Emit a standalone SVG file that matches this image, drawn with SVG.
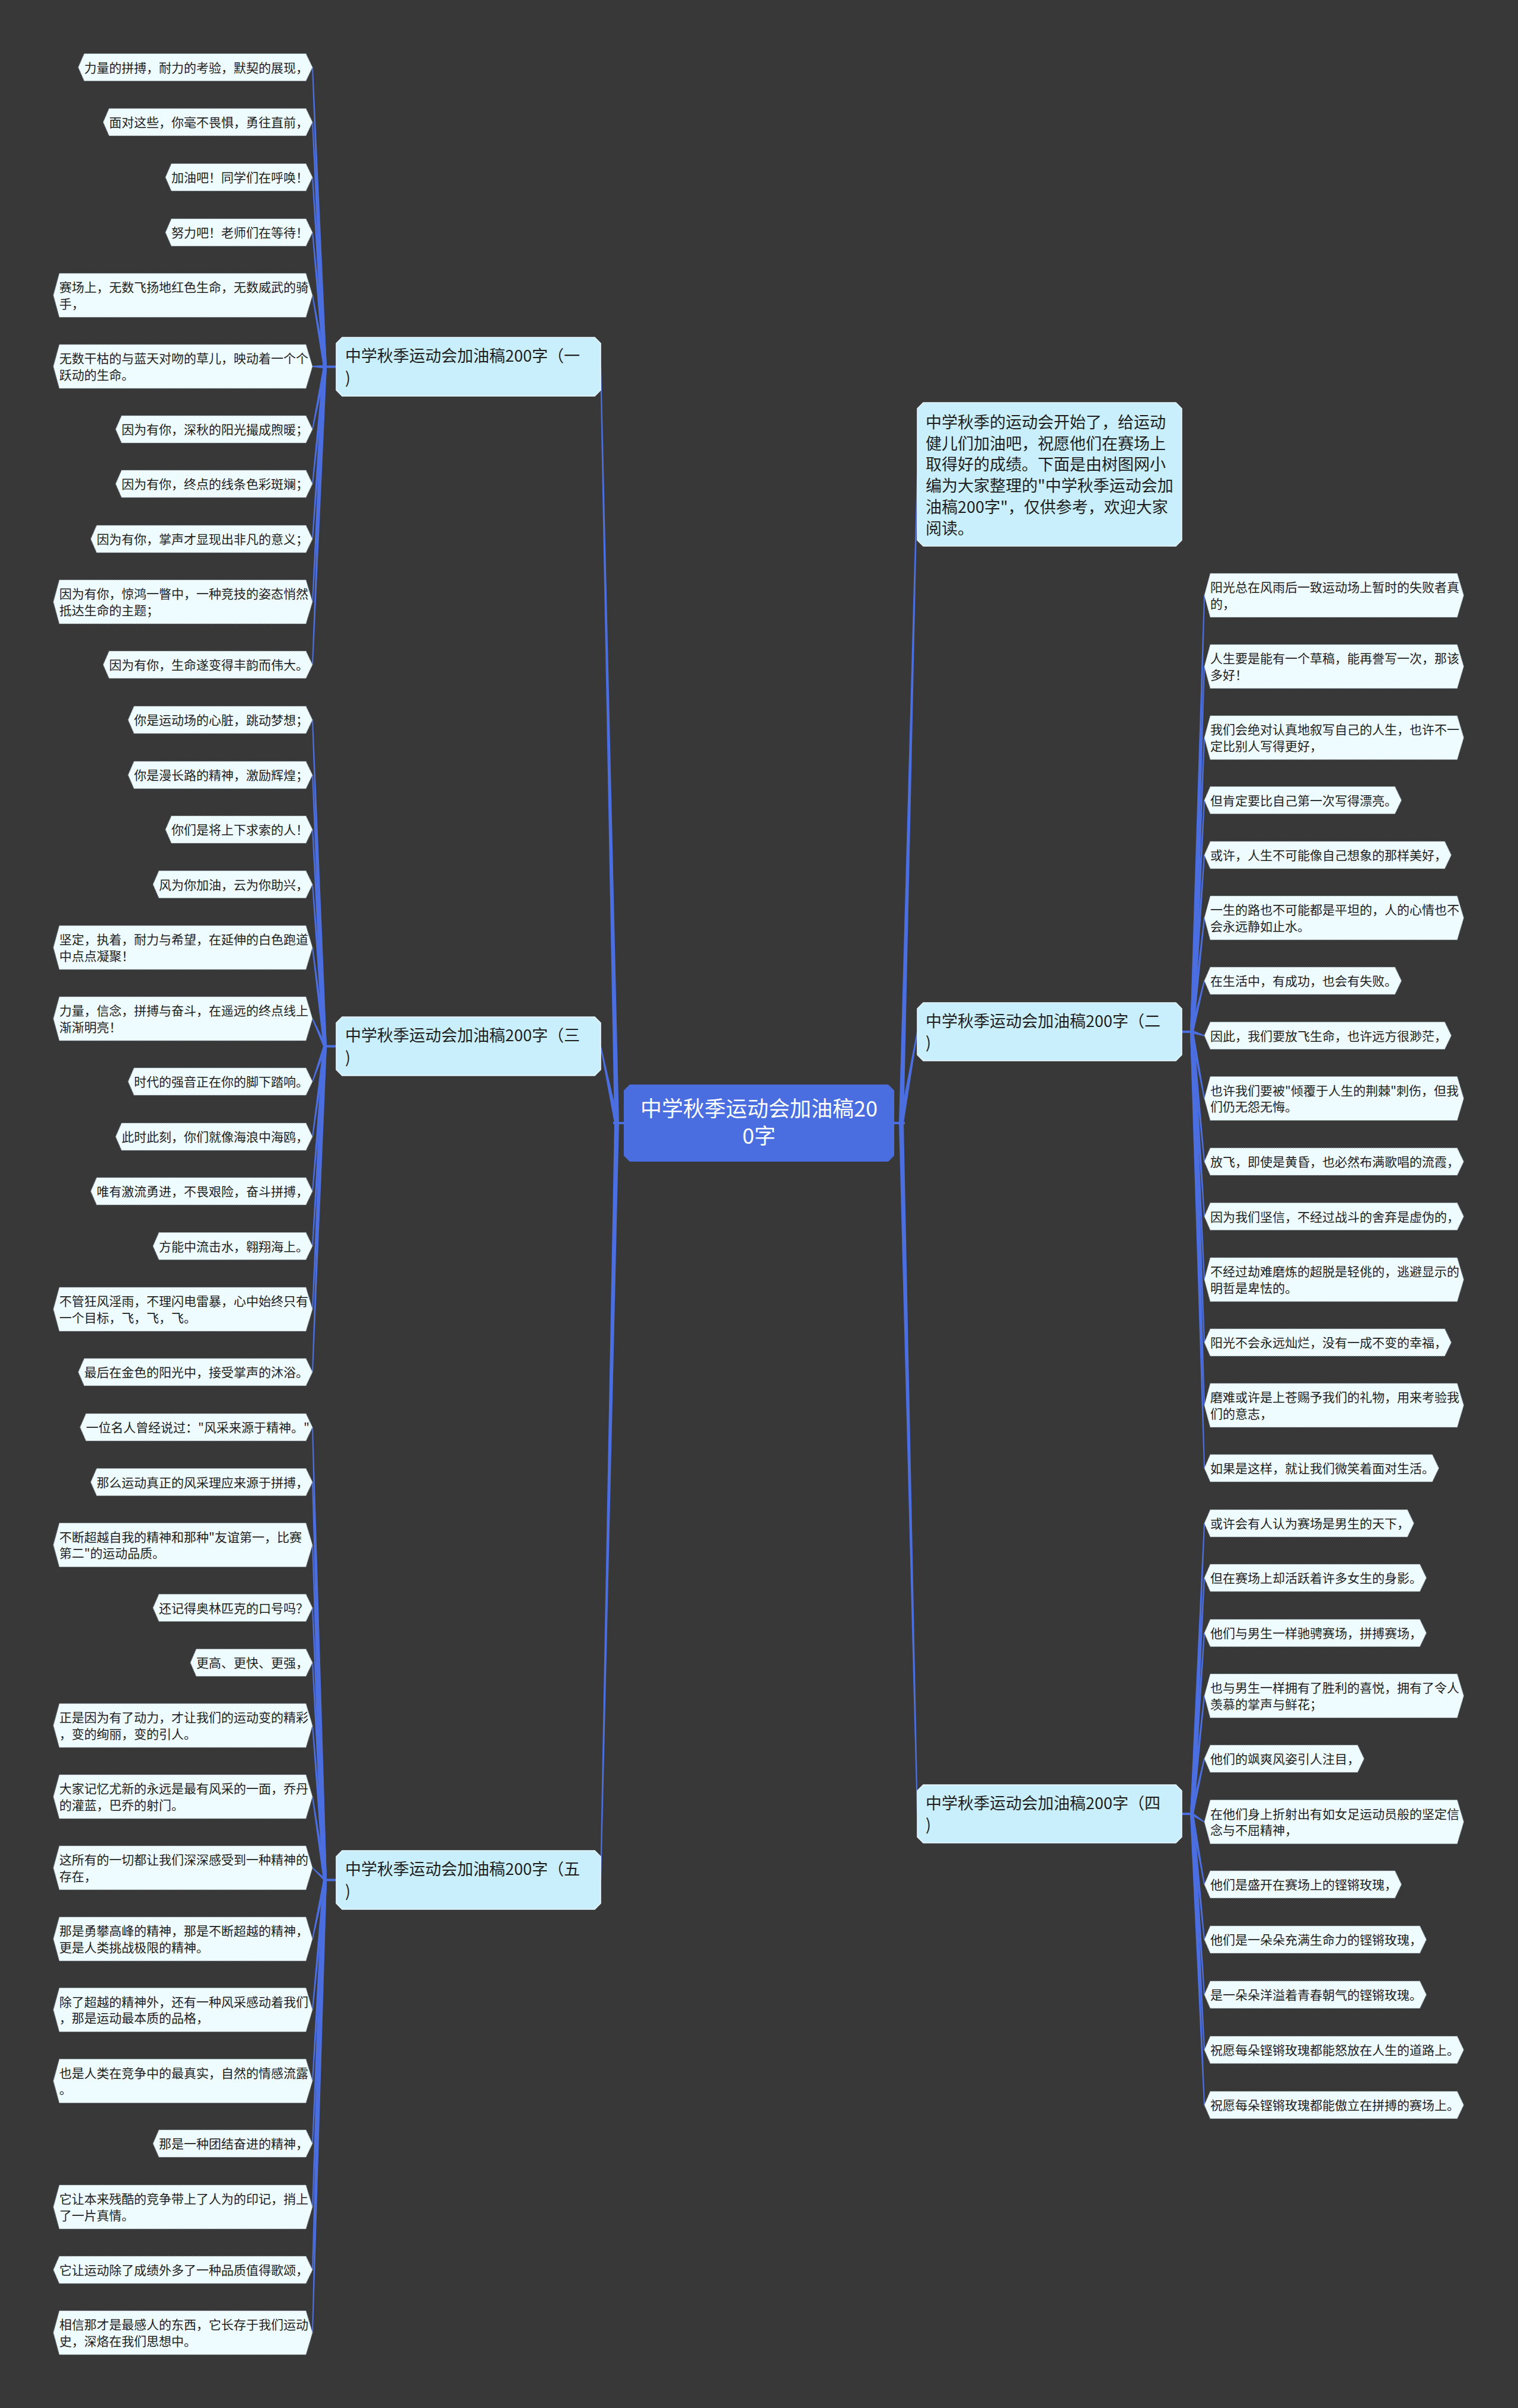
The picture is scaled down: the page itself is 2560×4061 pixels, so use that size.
<svg xmlns="http://www.w3.org/2000/svg" width="2560" height="4061" viewBox="0 0 2560 4061">
<style>
text{font-family:"Noto Sans CJK SC","Noto Sans",sans-serif;fill:#1e1e1e}
.lf{fill:#eefbff;stroke:#8f9ca2;stroke-width:1.2;stroke-dasharray:2 2}
.lt{font-size:21px}
.br{fill:#c9effc;stroke:#e8f8fe;stroke-width:1.5}
.bt{font-size:27px}
.ct{font-size:36px;fill:#ffffff;text-anchor:middle}
.cn{fill:#4b6ee0}
</style>
<rect x="0" y="0" width="2560" height="4061" fill="#393839"/>
<g id="connectors" class="cn">
<polygon points="1012,618.5 1036,1894 1044,1894 1014,618.5"/>
<polygon points="1012,1764.5 1036,1894 1044,1894 1014,1764.5"/>
<polygon points="1012,3170.5 1036,1894 1044,1894 1014,3170.5"/>
<polygon points="1546,800 1516,1894 1524,1894 1548,800"/>
<polygon points="1546,1740 1516,1894 1524,1894 1548,1740"/>
<polygon points="1546,3059 1516,1894 1524,1894 1548,3059"/>
<path d="M1034,1892 H1053 V1896 H1034 Z"/>
<path d="M1507,1892 H1526 V1896 H1507 Z"/>
<path d="M546,616.5 H568 V620.5 H546 Z"/>
<path d="M546,1762.5 H568 V1766.5 H546 Z"/>
<path d="M546,3168.5 H568 V3172.5 H546 Z"/>
<path d="M1992,1738 H2012 V1742 H1992 Z"/>
<path d="M1992,3057 H2012 V3061 H1992 Z"/>
<polygon points="526,113.5 545,618.5 551,618.5 528,113.5"/>
<polygon points="526,206 545,618.5 551,618.5 528,206"/>
<polygon points="526,299 545,618.5 551,618.5 528,299"/>
<polygon points="526,392 545,618.5 551,618.5 528,392"/>
<polygon points="526,498 545,618.5 551,618.5 528,498"/>
<polygon points="527,617 548,615.5 548,621.5 527,619"/>
<polygon points="526,724 545,618.5 551,618.5 528,724"/>
<polygon points="526,816 545,618.5 551,618.5 528,816"/>
<polygon points="526,909 545,618.5 551,618.5 528,909"/>
<polygon points="526,1015 545,618.5 551,618.5 528,1015"/>
<polygon points="526,1121 545,618.5 551,618.5 528,1121"/>
<polygon points="526,1214 545,1764.5 551,1764.5 528,1214"/>
<polygon points="526,1307 545,1764.5 551,1764.5 528,1307"/>
<polygon points="526,1399 545,1764.5 551,1764.5 528,1399"/>
<polygon points="526,1491.5 545,1764.5 551,1764.5 528,1491.5"/>
<polygon points="526,1598 545,1764.5 551,1764.5 528,1598"/>
<polygon points="526,1718 545,1764.5 551,1764.5 528,1718"/>
<polygon points="526,1824 545,1764.5 551,1764.5 528,1824"/>
<polygon points="526,1917 545,1764.5 551,1764.5 528,1917"/>
<polygon points="526,2009 545,1764.5 551,1764.5 528,2009"/>
<polygon points="526,2101.5 545,1764.5 551,1764.5 528,2101.5"/>
<polygon points="526,2208 545,1764.5 551,1764.5 528,2208"/>
<polygon points="526,2314 545,1764.5 551,1764.5 528,2314"/>
<polygon points="526,2407 545,3170.5 551,3170.5 528,2407"/>
<polygon points="526,2499.5 545,3170.5 551,3170.5 528,2499.5"/>
<polygon points="526,2605.5 545,3170.5 551,3170.5 528,2605.5"/>
<polygon points="526,2711.5 545,3170.5 551,3170.5 528,2711.5"/>
<polygon points="526,2804 545,3170.5 551,3170.5 528,2804"/>
<polygon points="526,2910 545,3170.5 551,3170.5 528,2910"/>
<polygon points="526,3030 545,3170.5 551,3170.5 528,3030"/>
<polygon points="527,3149 548,3167.5 548,3173.5 527,3151"/>
<polygon points="526,3270 545,3170.5 551,3170.5 528,3270"/>
<polygon points="526,3389.5 545,3170.5 551,3170.5 528,3389.5"/>
<polygon points="526,3509.5 545,3170.5 551,3170.5 528,3509.5"/>
<polygon points="526,3615 545,3170.5 551,3170.5 528,3615"/>
<polygon points="526,3722 545,3170.5 551,3170.5 528,3722"/>
<polygon points="526,3828 545,3170.5 551,3170.5 528,3828"/>
<polygon points="526,3934 545,3170.5 551,3170.5 528,3934"/>
<polygon points="2030,1004 2007,1740 2013,1740 2032,1004"/>
<polygon points="2030,1124 2007,1740 2013,1740 2032,1124"/>
<polygon points="2030,1244 2007,1740 2013,1740 2032,1244"/>
<polygon points="2030,1349.5 2007,1740 2013,1740 2032,1349.5"/>
<polygon points="2030,1442 2007,1740 2013,1740 2032,1442"/>
<polygon points="2030,1548 2007,1740 2013,1740 2032,1548"/>
<polygon points="2030,1654 2007,1740 2013,1740 2032,1654"/>
<polygon points="2031,1745.5 2010,1737 2010,1743 2031,1747.5"/>
<polygon points="2030,1852.5 2007,1740 2013,1740 2032,1852.5"/>
<polygon points="2030,1959 2007,1740 2013,1740 2032,1959"/>
<polygon points="2030,2051.5 2007,1740 2013,1740 2032,2051.5"/>
<polygon points="2030,2158 2007,1740 2013,1740 2032,2158"/>
<polygon points="2030,2264 2007,1740 2013,1740 2032,2264"/>
<polygon points="2030,2370 2007,1740 2013,1740 2032,2370"/>
<polygon points="2030,2476 2007,1740 2013,1740 2032,2476"/>
<polygon points="2030,2569 2007,3059 2013,3059 2032,2569"/>
<polygon points="2030,2661 2007,3059 2013,3059 2032,2661"/>
<polygon points="2030,2754 2007,3059 2013,3059 2032,2754"/>
<polygon points="2030,2860 2007,3059 2013,3059 2032,2860"/>
<polygon points="2030,2966 2007,3059 2013,3059 2032,2966"/>
<polygon points="2031,3071.5 2010,3056 2010,3062 2031,3073.5"/>
<polygon points="2030,3178 2007,3059 2013,3059 2032,3178"/>
<polygon points="2030,3271 2007,3059 2013,3059 2032,3271"/>
<polygon points="2030,3364 2007,3059 2013,3059 2032,3364"/>
<polygon points="2030,3457 2007,3059 2013,3059 2032,3457"/>
<polygon points="2030,3550 2007,3059 2013,3059 2032,3550"/>
</g>

<g id="center">
<path d="M1062,1829 H1498 L1508,1839 V1949 L1498,1959 H1062 L1052,1949 V1839 Z" fill="#4a6ee0"/>
<text class="ct" x="1280" y="1882.5">中学秋季运动会加油稿20</text>
<text class="ct" x="1280" y="1929">0字</text>
</g>

<g id="branch-1">
<path class="br" d="M577,569 H1003 L1013,579 V658 L1003,668 H577 L567,658 V579 Z"/>
<text class="bt" x="582" y="610">中学秋季运动会加油稿200字（一<tspan x="582" y="646.5">)</tspan></text>
</g>
<g id="branch-3">
<path class="br" d="M577,1715 H1003 L1013,1725 V1804 L1003,1814 H577 L567,1804 V1725 Z"/>
<text class="bt" x="582" y="1756">中学秋季运动会加油稿200字（三<tspan x="582" y="1792.5">)</tspan></text>
</g>
<g id="branch-5">
<path class="br" d="M577,3121 H1003 L1013,3131 V3210 L1003,3220 H577 L567,3210 V3131 Z"/>
<text class="bt" x="582" y="3162">中学秋季运动会加油稿200字（五<tspan x="582" y="3198.5">)</tspan></text>
</g>
<g id="intro">
<path class="br" d="M1557,679 H1983 L1993,689 V911 L1983,921 H1557 L1547,911 V689 Z"/>
<text class="bt" x="1561" y="722">中学秋季的运动会开始了，给运动<tspan x="1561" y="757.7">健儿们加油吧，祝愿他们在赛场上</tspan><tspan x="1561" y="793.4">取得好的成绩。下面是由树图网小</tspan><tspan x="1561" y="829.1">编为大家整理的"中学秋季运动会加</tspan><tspan x="1561" y="864.8">油稿200字"，仅供参考，欢迎大家</tspan><tspan x="1561" y="900.5">阅读。</tspan></text>
</g>
<g id="branch-2">
<path class="br" d="M1557,1691 H1983 L1993,1701 V1779 L1983,1789 H1557 L1547,1779 V1701 Z"/>
<text class="bt" x="1561" y="1731.5">中学秋季运动会加油稿200字（二<tspan x="1561" y="1768">)</tspan></text>
</g>
<g id="branch-4">
<path class="br" d="M1557,3010 H1983 L1993,3020 V3098 L1983,3108 H1557 L1547,3098 V3020 Z"/>
<text class="bt" x="1561" y="3050.5">中学秋季运动会加油稿200字（四<tspan x="1561" y="3087">)</tspan></text>
</g>

<g id="leaf-1-1"><path class="lf" d="M527,113.5 l-11,-23 H142 l-10,23 l10,23 H516 z"/><text class="lt" x="142" y="121.5">力量的拼搏，耐力的考验，默契的展现，</text></g>
<g id="leaf-1-2"><path class="lf" d="M527,206 l-11,-23 H184 l-10,23 l10,23 H516 z"/><text class="lt" x="184" y="214">面对这些，你毫不畏惧，勇往直前，</text></g>
<g id="leaf-1-3"><path class="lf" d="M527,299 l-11,-23 H289 l-10,23 l10,23 H516 z"/><text class="lt" x="289" y="307">加油吧！同学们在呼唤！</text></g>
<g id="leaf-1-4"><path class="lf" d="M527,392 l-11,-23 H289 l-10,23 l10,23 H516 z"/><text class="lt" x="289" y="400">努力吧！老师们在等待！</text></g>
<g id="leaf-1-5"><path class="lf" d="M527,498 l-11,-37 H100 l-10,37 l10,37 H516 z"/><text class="lt" x="100" y="492">赛场上，无数飞扬地红色生命，无数威武的骑<tspan x="100" y="519.5">手，</tspan></text></g>
<g id="leaf-1-6"><path class="lf" d="M527,618 l-11,-37 H100 l-10,37 l10,37 H516 z"/><text class="lt" x="100" y="612">无数干枯的与蓝天对吻的草儿，映动着一个个<tspan x="100" y="639.5">跃动的生命。</tspan></text></g>
<g id="leaf-1-7"><path class="lf" d="M527,724 l-11,-23 H205 l-10,23 l10,23 H516 z"/><text class="lt" x="205" y="732">因为有你，深秋的阳光撮成煦暖；</text></g>
<g id="leaf-1-8"><path class="lf" d="M527,816 l-11,-23 H205 l-10,23 l10,23 H516 z"/><text class="lt" x="205" y="824">因为有你，终点的线条色彩斑斓；</text></g>
<g id="leaf-1-9"><path class="lf" d="M527,909 l-11,-23 H163 l-10,23 l10,23 H516 z"/><text class="lt" x="163" y="917">因为有你，掌声才显现出非凡的意义；</text></g>
<g id="leaf-1-10"><path class="lf" d="M527,1015 l-11,-37 H100 l-10,37 l10,37 H516 z"/><text class="lt" x="100" y="1009">因为有你，惊鸿一瞥中，一种竞技的姿态悄然<tspan x="100" y="1036.5">抵达生命的主题；</tspan></text></g>
<g id="leaf-1-11"><path class="lf" d="M527,1121 l-11,-23 H184 l-10,23 l10,23 H516 z"/><text class="lt" x="184" y="1129">因为有你，生命遂变得丰韵而伟大。</text></g>

<g id="leaf-3-1"><path class="lf" d="M527,1214 l-11,-23 H226 l-10,23 l10,23 H516 z"/><text class="lt" x="226" y="1222">你是运动场的心脏，跳动梦想；</text></g>
<g id="leaf-3-2"><path class="lf" d="M527,1307 l-11,-23 H226 l-10,23 l10,23 H516 z"/><text class="lt" x="226" y="1315">你是漫长路的精神，激励辉煌；</text></g>
<g id="leaf-3-3"><path class="lf" d="M527,1399 l-11,-23 H289 l-10,23 l10,23 H516 z"/><text class="lt" x="289" y="1407">你们是将上下求索的人！</text></g>
<g id="leaf-3-4"><path class="lf" d="M527,1491.5 l-11,-23 H268 l-10,23 l10,23 H516 z"/><text class="lt" x="268" y="1499.5">风为你加油，云为你助兴，</text></g>
<g id="leaf-3-5"><path class="lf" d="M527,1598 l-11,-37 H100 l-10,37 l10,37 H516 z"/><text class="lt" x="100" y="1592">坚定，执着，耐力与希望，在延伸的白色跑道<tspan x="100" y="1619.5">中点点凝聚！</tspan></text></g>
<g id="leaf-3-6"><path class="lf" d="M527,1718 l-11,-37 H100 l-10,37 l10,37 H516 z"/><text class="lt" x="100" y="1712">力量，信念，拼搏与奋斗，在遥远的终点线上<tspan x="100" y="1739.5">渐渐明亮！</tspan></text></g>
<g id="leaf-3-7"><path class="lf" d="M527,1824 l-11,-23 H226 l-10,23 l10,23 H516 z"/><text class="lt" x="226" y="1832">时代的强音正在你的脚下踏响。</text></g>
<g id="leaf-3-8"><path class="lf" d="M527,1917 l-11,-23 H205 l-10,23 l10,23 H516 z"/><text class="lt" x="205" y="1925">此时此刻，你们就像海浪中海鸥，</text></g>
<g id="leaf-3-9"><path class="lf" d="M527,2009 l-11,-23 H163 l-10,23 l10,23 H516 z"/><text class="lt" x="163" y="2017">唯有激流勇进，不畏艰险，奋斗拼搏，</text></g>
<g id="leaf-3-10"><path class="lf" d="M527,2101.5 l-11,-23 H268 l-10,23 l10,23 H516 z"/><text class="lt" x="268" y="2109.5">方能中流击水，翱翔海上。</text></g>
<g id="leaf-3-11"><path class="lf" d="M527,2208 l-11,-37 H100 l-10,37 l10,37 H516 z"/><text class="lt" x="100" y="2202">不管狂风淫雨，不理闪电雷暴，心中始终只有<tspan x="100" y="2229.5">一个目标，飞，飞，飞。</tspan></text></g>
<g id="leaf-3-12"><path class="lf" d="M527,2314 l-11,-23 H142 l-10,23 l10,23 H516 z"/><text class="lt" x="142" y="2322">最后在金色的阳光中，接受掌声的沐浴。</text></g>

<g id="leaf-5-1"><path class="lf" d="M527,2407 l-11,-23 H145 l-10,23 l10,23 H516 z"/><text class="lt" x="145" y="2415">一位名人曾经说过："风采来源于精神。"</text></g>
<g id="leaf-5-2"><path class="lf" d="M527,2499.5 l-11,-23 H163 l-10,23 l10,23 H516 z"/><text class="lt" x="163" y="2507.5">那么运动真正的风采理应来源于拼搏，</text></g>
<g id="leaf-5-3"><path class="lf" d="M527,2605.5 l-11,-37 H100 l-10,37 l10,37 H516 z"/><text class="lt" x="100" y="2599.5">不断超越自我的精神和那种"友谊第一，比赛<tspan x="100" y="2627">第二"的运动品质。</tspan></text></g>
<g id="leaf-5-4"><path class="lf" d="M527,2711.5 l-11,-23 H268 l-10,23 l10,23 H516 z"/><text class="lt" x="268" y="2719.5">还记得奥林匹克的口号吗？</text></g>
<g id="leaf-5-5"><path class="lf" d="M527,2804 l-11,-23 H331 l-10,23 l10,23 H516 z"/><text class="lt" x="331" y="2812">更高、更快、更强，</text></g>
<g id="leaf-5-6"><path class="lf" d="M527,2910 l-11,-37 H100 l-10,37 l10,37 H516 z"/><text class="lt" x="100" y="2904">正是因为有了动力，才让我们的运动变的精彩<tspan x="100" y="2931.5">，变的绚丽，变的引人。</tspan></text></g>
<g id="leaf-5-7"><path class="lf" d="M527,3030 l-11,-37 H100 l-10,37 l10,37 H516 z"/><text class="lt" x="100" y="3024">大家记忆尤新的永远是最有风采的一面，乔丹<tspan x="100" y="3051.5">的灌蓝，巴乔的射门。</tspan></text></g>
<g id="leaf-5-8"><path class="lf" d="M527,3150 l-11,-37 H100 l-10,37 l10,37 H516 z"/><text class="lt" x="100" y="3144">这所有的一切都让我们深深感受到一种精神的<tspan x="100" y="3171.5">存在，</tspan></text></g>
<g id="leaf-5-9"><path class="lf" d="M527,3270 l-11,-37 H100 l-10,37 l10,37 H516 z"/><text class="lt" x="100" y="3264">那是勇攀高峰的精神，那是不断超越的精神，<tspan x="100" y="3291.5">更是人类挑战极限的精神。</tspan></text></g>
<g id="leaf-5-10"><path class="lf" d="M527,3389.5 l-11,-37 H100 l-10,37 l10,37 H516 z"/><text class="lt" x="100" y="3383.5">除了超越的精神外，还有一种风采感动着我们<tspan x="100" y="3411">，那是运动最本质的品格，</tspan></text></g>
<g id="leaf-5-11"><path class="lf" d="M527,3509.5 l-11,-37 H100 l-10,37 l10,37 H516 z"/><text class="lt" x="100" y="3503.5">也是人类在竞争中的最真实，自然的情感流露<tspan x="100" y="3531">。</tspan></text></g>
<g id="leaf-5-12"><path class="lf" d="M527,3615 l-11,-23 H268 l-10,23 l10,23 H516 z"/><text class="lt" x="268" y="3623">那是一种团结奋进的精神，</text></g>
<g id="leaf-5-13"><path class="lf" d="M527,3722 l-11,-37 H100 l-10,37 l10,37 H516 z"/><text class="lt" x="100" y="3716">它让本来残酷的竞争带上了人为的印记，捎上<tspan x="100" y="3743.5">了一片真情。</tspan></text></g>
<g id="leaf-5-14"><path class="lf" d="M527,3828 l-11,-23 H100 l-10,23 l10,23 H516 z"/><text class="lt" x="100" y="3836">它让运动除了成绩外多了一种品质值得歌颂，</text></g>
<g id="leaf-5-15"><path class="lf" d="M527,3934 l-11,-37 H100 l-10,37 l10,37 H516 z"/><text class="lt" x="100" y="3928">相信那才是最感人的东西，它长存于我们运动<tspan x="100" y="3955.5">史，深烙在我们思想中。</tspan></text></g>

<g id="leaf-2-1"><path class="lf" d="M2031,1004 l10,-37 H2457.5 l11,37 l-11,37 H2041 z"/><text class="lt" x="2041" y="998">阳光总在风雨后一致运动场上暂时的失败者真<tspan x="2041" y="1025.5">的，</tspan></text></g>
<g id="leaf-2-2"><path class="lf" d="M2031,1124 l10,-37 H2457.5 l11,37 l-11,37 H2041 z"/><text class="lt" x="2041" y="1118">人生要是能有一个草稿，能再誊写一次，那该<tspan x="2041" y="1145.5">多好！</tspan></text></g>
<g id="leaf-2-3"><path class="lf" d="M2031,1244 l10,-37 H2457.5 l11,37 l-11,37 H2041 z"/><text class="lt" x="2041" y="1238">我们会绝对认真地叙写自己的人生，也许不一<tspan x="2041" y="1265.5">定比别人写得更好，</tspan></text></g>
<g id="leaf-2-4"><path class="lf" d="M2031,1349.5 l10,-23 H2352.5 l11,23 l-11,23 H2041 z"/><text class="lt" x="2041" y="1357.5">但肯定要比自己第一次写得漂亮。</text></g>
<g id="leaf-2-5"><path class="lf" d="M2031,1442 l10,-23 H2436.5 l11,23 l-11,23 H2041 z"/><text class="lt" x="2041" y="1450">或许，人生不可能像自己想象的那样美好，</text></g>
<g id="leaf-2-6"><path class="lf" d="M2031,1548 l10,-37 H2457.5 l11,37 l-11,37 H2041 z"/><text class="lt" x="2041" y="1542">一生的路也不可能都是平坦的，人的心情也不<tspan x="2041" y="1569.5">会永远静如止水。</tspan></text></g>
<g id="leaf-2-7"><path class="lf" d="M2031,1654 l10,-23 H2352.5 l11,23 l-11,23 H2041 z"/><text class="lt" x="2041" y="1662">在生活中，有成功，也会有失败。</text></g>
<g id="leaf-2-8"><path class="lf" d="M2031,1746.5 l10,-23 H2436.5 l11,23 l-11,23 H2041 z"/><text class="lt" x="2041" y="1754.5">因此，我们要放飞生命，也许远方很渺茫，</text></g>
<g id="leaf-2-9"><path class="lf" d="M2031,1852.5 l10,-37 H2457.5 l11,37 l-11,37 H2041 z"/><text class="lt" x="2041" y="1846.5">也许我们要被"倾覆于人生的荆棘"刺伤，但我<tspan x="2041" y="1874">们仍无怨无悔。</tspan></text></g>
<g id="leaf-2-10"><path class="lf" d="M2031,1959 l10,-23 H2457.5 l11,23 l-11,23 H2041 z"/><text class="lt" x="2041" y="1967">放飞，即使是黄昏，也必然布满歌唱的流霞，</text></g>
<g id="leaf-2-11"><path class="lf" d="M2031,2051.5 l10,-23 H2457.5 l11,23 l-11,23 H2041 z"/><text class="lt" x="2041" y="2059.5">因为我们坚信，不经过战斗的舍弃是虚伪的，</text></g>
<g id="leaf-2-12"><path class="lf" d="M2031,2158 l10,-37 H2457.5 l11,37 l-11,37 H2041 z"/><text class="lt" x="2041" y="2152">不经过劫难磨炼的超脱是轻佻的，逃避显示的<tspan x="2041" y="2179.5">明哲是卑怯的。</tspan></text></g>
<g id="leaf-2-13"><path class="lf" d="M2031,2264 l10,-23 H2436.5 l11,23 l-11,23 H2041 z"/><text class="lt" x="2041" y="2272">阳光不会永远灿烂，没有一成不变的幸福，</text></g>
<g id="leaf-2-14"><path class="lf" d="M2031,2370 l10,-37 H2457.5 l11,37 l-11,37 H2041 z"/><text class="lt" x="2041" y="2364">磨难或许是上苍赐予我们的礼物，用来考验我<tspan x="2041" y="2391.5">们的意志，</tspan></text></g>
<g id="leaf-2-15"><path class="lf" d="M2031,2476 l10,-23 H2415.5 l11,23 l-11,23 H2041 z"/><text class="lt" x="2041" y="2484">如果是这样，就让我们微笑着面对生活。</text></g>

<g id="leaf-4-1"><path class="lf" d="M2031,2569 l10,-23 H2373.5 l11,23 l-11,23 H2041 z"/><text class="lt" x="2041" y="2577">或许会有人认为赛场是男生的天下，</text></g>
<g id="leaf-4-2"><path class="lf" d="M2031,2661 l10,-23 H2394.5 l11,23 l-11,23 H2041 z"/><text class="lt" x="2041" y="2669">但在赛场上却活跃着许多女生的身影。</text></g>
<g id="leaf-4-3"><path class="lf" d="M2031,2754 l10,-23 H2394.5 l11,23 l-11,23 H2041 z"/><text class="lt" x="2041" y="2762">他们与男生一样驰骋赛场，拼搏赛场，</text></g>
<g id="leaf-4-4"><path class="lf" d="M2031,2860 l10,-37 H2457.5 l11,37 l-11,37 H2041 z"/><text class="lt" x="2041" y="2854">也与男生一样拥有了胜利的喜悦，拥有了令人<tspan x="2041" y="2881.5">羡慕的掌声与鲜花；</tspan></text></g>
<g id="leaf-4-5"><path class="lf" d="M2031,2966 l10,-23 H2289.5 l11,23 l-11,23 H2041 z"/><text class="lt" x="2041" y="2974">他们的飒爽风姿引人注目，</text></g>
<g id="leaf-4-6"><path class="lf" d="M2031,3072.5 l10,-37 H2457.5 l11,37 l-11,37 H2041 z"/><text class="lt" x="2041" y="3066.5">在他们身上折射出有如女足运动员般的坚定信<tspan x="2041" y="3094">念与不屈精神，</tspan></text></g>
<g id="leaf-4-7"><path class="lf" d="M2031,3178 l10,-23 H2352.5 l11,23 l-11,23 H2041 z"/><text class="lt" x="2041" y="3186">他们是盛开在赛场上的铿锵玫瑰，</text></g>
<g id="leaf-4-8"><path class="lf" d="M2031,3271 l10,-23 H2394.5 l11,23 l-11,23 H2041 z"/><text class="lt" x="2041" y="3279">他们是一朵朵充满生命力的铿锵玫瑰，</text></g>
<g id="leaf-4-9"><path class="lf" d="M2031,3364 l10,-23 H2394.5 l11,23 l-11,23 H2041 z"/><text class="lt" x="2041" y="3372">是一朵朵洋溢着青春朝气的铿锵玫瑰。</text></g>
<g id="leaf-4-10"><path class="lf" d="M2031,3457 l10,-23 H2457.5 l11,23 l-11,23 H2041 z"/><text class="lt" x="2041" y="3465">祝愿每朵铿锵玫瑰都能怒放在人生的道路上。</text></g>
<g id="leaf-4-11"><path class="lf" d="M2031,3550 l10,-23 H2457.5 l11,23 l-11,23 H2041 z"/><text class="lt" x="2041" y="3558">祝愿每朵铿锵玫瑰都能傲立在拼搏的赛场上。</text></g>
</svg>
